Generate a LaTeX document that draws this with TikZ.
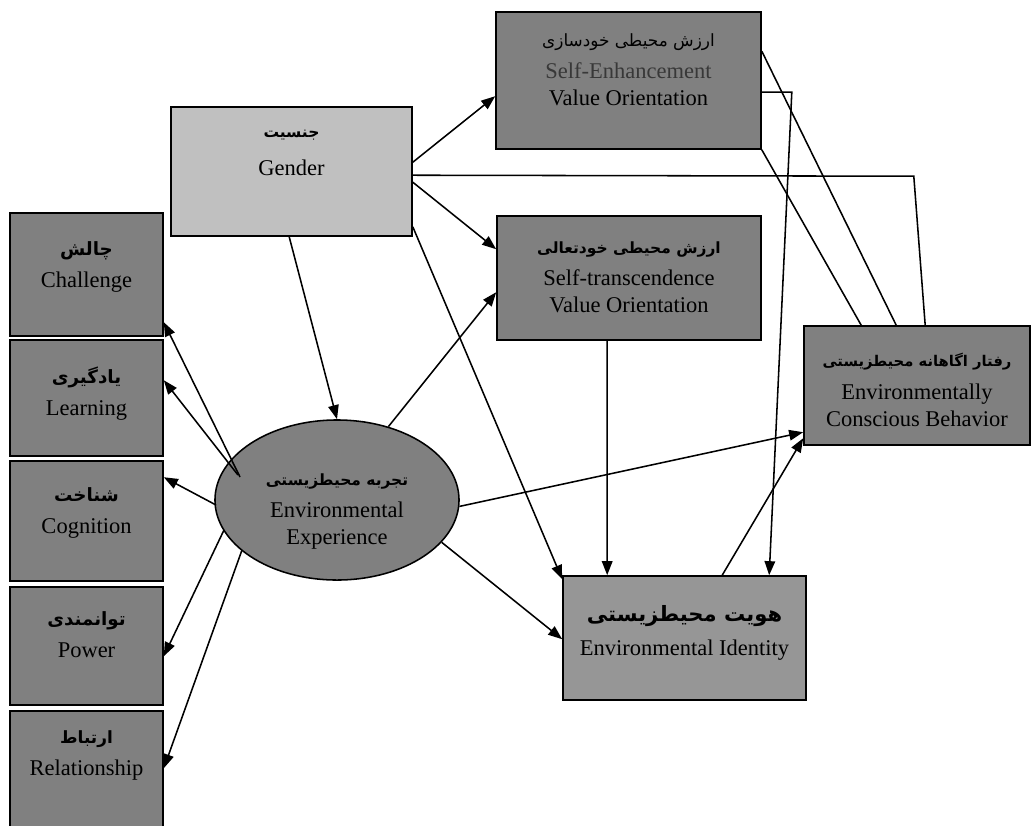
\documentclass[tikz,border=0pt]{standalone}
\usepackage{fontspec}
\setmainfont{Liberation Serif}
\newfontfamily\fa[Script=Arabic]{DejaVu Sans}
\TeXXeTstate=1
\usetikzlibrary{positioning}
\usetikzlibrary{shapes.geometric}
\usetikzlibrary{arrows.meta}
\usetikzlibrary{calc}
\definecolor{boxgray}{RGB}{128,128,128}
\definecolor{gengray}{RGB}{192,192,192}
\definecolor{idgray}{RGB}{150,150,150}
\newcommand{\fab}[2][13]{{\fontsize{#1}{19}\fa\bfseries\beginR #2\endR}}
\newcommand{\fan}[2][13]{{\fontsize{#1}{19}\fa\beginR #2\endR}}

\begin{document}
\begin{tikzpicture}[x=0.025cm,y=-0.025cm,
	box/.style={draw,line width=1.1pt,fill=boxgray,inner sep=0pt},
	txt/.style={align=center,inner sep=0pt,font=\fontsize{16}{19}\selectfont},
	arr/.style={line width=1.1pt,-{Triangle[length=10pt,width=7.5pt]}},
	lin/.style={line width=1.1pt}]
	\useasboundingbox (0,0) rectangle (1034,825);
	% boxes
	\node[box,minimum width=6.625cm,minimum height=3.425cm] (se) at (628.5,80.5) {};
	\node[box,fill=gengray,minimum width=6.025cm,minimum height=3.225cm] (gen) at (291.5,171.5) {};
	\node[box,minimum width=6.6cm,minimum height=3.1cm] (st) at (629,278) {};
	\node[box,minimum width=5.65cm,minimum height=2.975cm] (ecb) at (917,385.5) {};
	\node[box,fill=idgray,minimum width=6.075cm,minimum height=3.1cm] (ei) at (684.5,638) {};
	\node[box,ellipse,minimum width=6.1cm,minimum height=4cm] (exp) at (337,500) {};
	\node[box,minimum width=3.825cm,minimum height=3.075cm] (ch) at (86.5,274.5) {};
	\node[box,minimum width=3.825cm,minimum height=2.9cm] (le) at (86.5,398) {};
	\node[box,minimum width=3.825cm,minimum height=3cm] (co) at (86.5,521) {};
	\node[box,minimum width=3.825cm,minimum height=2.95cm] (po) at (86.5,646) {};
	\node[box,minimum width=3.825cm,minimum height=2.975cm] (re) at (86.5,770.5) {};
	% labels
	\node[txt,below=0.55cm of se.north] (seT) {\fan[12]{ارزش محیطی خودسازی}\\[4pt]{\color{black!78}Self-Enhancement}\\Value Orientation};
	\node[txt,below=0.6cm of gen.north] (genT) {\fab[11]{جنسیت}\\[8pt]Gender};
	\node[txt,below=0.65cm of st.north] (stT) {\fab[11]{ارزش محیطی خودتعالی}\\[4pt]Self-transcendence\\Value Orientation};
	\node[txt,below=0.7cm of ecb.north] (ecbT) {\fab[10.5]{رفتار اگاهانه محیطزیستی}\\[4pt]Environmentally\\Conscious Behavior};
	\node[txt,below=0.75cm of ei.north] (eiT) {\fab[15]{هویت محیطزیستی}\\[5pt]Environmental Identity};
	\node[txt,below=1.35cm of exp.north] (expT) {\fab[11]{تجربه محیطزیستی}\\[4pt]Environmental\\Experience};
	\node[txt,below=0.725cm of ch.north] (chT) {\fab{چالش}\\[4pt]Challenge};
	\node[txt,below=0.675cm of le.north] (leT) {\fab{یادگیری}\\[4pt]Learning};
	\node[txt,below=0.675cm of co.north] (coT) {\fab{شناخت}\\[4pt]Cognition};
	\node[txt,below=0.625cm of po.north] (poT) {\fab{توانمندی}\\[4pt]Power};
	\node[txt,below=0.5cm of re.north] (reT) {\fab[12]{ارتباط}\\[4pt]Relationship};
	% connectors
	\draw[arr] ($(gen.north east)+(0,56)$) -- ($(se.north west)+(0,85)$);
	\draw[arr] ($(gen.north east)+(0,76)$) -- ($(st.north west)+(0,34)$);
	\draw[lin] ($(gen.north east)+(0,69)$) -- ++(501,1) -- ($(ecb.north west)+(122,0)$);
	\draw[arr] ($(gen.south east)+(0,-10)$) -- ($(ei.north west)+(0,4)$);
	\draw[arr] ($(gen.south west)+(119,0)$) -- (exp.north);
	\draw[lin] ($(se.north east)+(0,40)$) -- ($(ecb.north west)+(93,0)$);
	\draw[lin] (se.south east) -- ($(ecb.north west)+(58,0)$);
	\draw[arr] ($(se.north east)+(0,81)$) -- ++(30,0) -- ($(ei.north west)+(207,0)$);
	\draw[arr] ($(st.south west)+(111,0)$) -- ($(ei.north west)+(45,0)$);
	\draw[arr] (exp.55) -- ($(st.north west)+(0,77)$);
	\draw[arr] (exp.-3) -- ($(ecb.north west)+(0,107)$);
	\draw[arr] (exp.-22) -- ($(ei.north west)+(0,64)$);
	\draw[arr] ($(ei.north west)+(160,0)$) -- ($(ecb.north west)+(0,113)$);
	\draw[arr] ($(exp.center)+(-97,-23)$) -- ($(ch.north east)+(0,110)$);
	\draw[arr] ($(exp.center)+(-99,-25)$) -- ($(le.north east)+(0,41)$);
	\draw[arr] ($(exp.center)+(-121,5)$) -- ($(co.north east)+(0,17)$);
	\draw[arr] ($(exp.center)+(-113,30)$) -- ($(po.north east)+(0,70)$);
	\draw[arr] ($(exp.center)+(-95,50)$) -- ($(re.north east)+(0,58)$);
\end{tikzpicture}
\end{document}
